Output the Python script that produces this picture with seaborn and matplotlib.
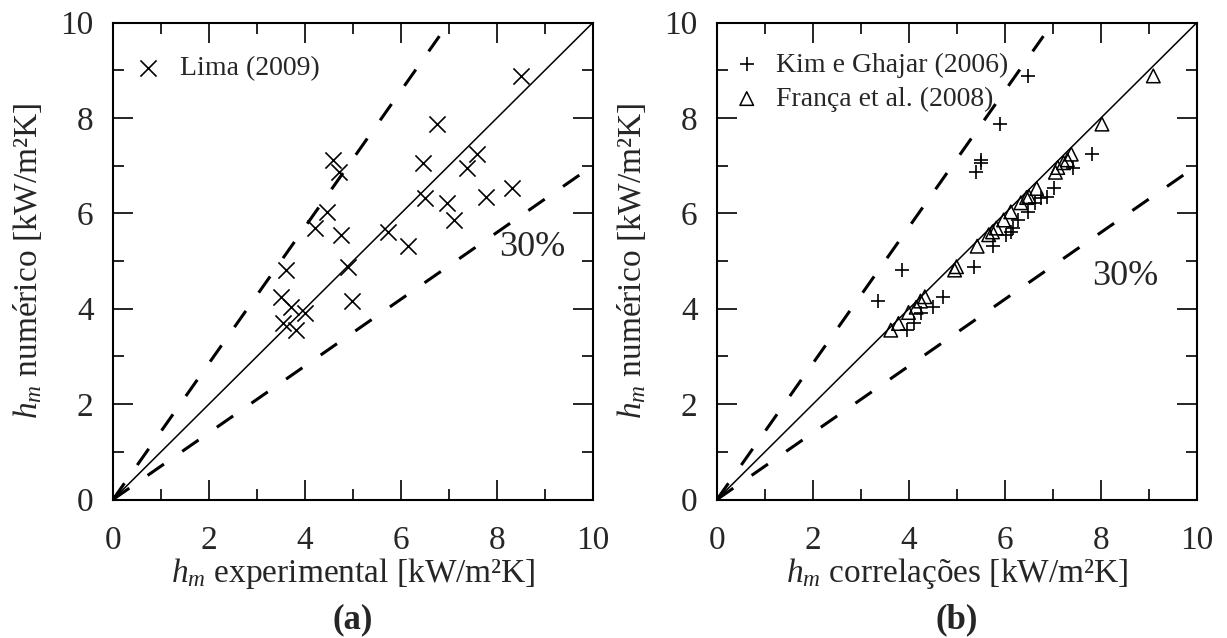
import numpy as np
import pandas as pd
import matplotlib
matplotlib.use("Agg")
import matplotlib.pyplot as plt
from matplotlib.ticker import MultipleLocator
import seaborn as sns

# Numerical heat transfer coefficient (same runs in both panels) [kW/m2K]
h_numerico = [3.55, 3.69, 3.92, 4.03, 4.16, 4.25, 4.81, 4.88, 5.31, 5.55,
              5.61, 5.69, 5.86, 6.03, 6.22, 6.33, 6.35, 6.52, 6.86, 6.96,
              7.06, 7.12, 7.24, 7.87, 8.88]
# Experimental values, Lima (2009)
h_lima = [3.81, 3.55, 3.99, 3.71, 4.97, 3.50, 3.60, 4.90, 6.14, 4.76,
          5.72, 4.21, 7.11, 4.46, 6.96, 6.49, 7.77, 8.32, 4.71, 7.37,
          6.46, 4.58, 7.58, 6.74, 8.49]
# Correlation of Kim e Ghajar (2006)
h_kim = [3.95, 4.10, 4.25, 4.50, 3.36, 4.70, 3.86, 5.36, 5.76, 6.03,
         6.12, 6.16, 6.28, 6.48, 6.62, 6.76, 6.88, 7.02, 5.40, 7.42,
         5.51, 5.49, 7.82, 5.90, 6.48]
# Correlation of França et al. (2008)
h_franca = [3.62, 3.78, 3.99, 4.15, 4.24, 4.33, 4.95, 4.99, 5.42, 5.66,
            5.74, 5.82, 5.97, 6.12, 6.33, 6.45, 6.50, 6.66, 7.05, 7.10,
            7.22, 7.30, 7.38, 8.02, 9.09]

ticks = [0, 2, 4, 6, 8, 10]
band = 0.30  # +/- 30 % deviation lines

sns.set_style("ticks")
plt.rcParams["font.family"] = ["Liberation Serif", "DejaVu Serif"]
plt.rcParams["mathtext.fontset"] = "custom"
plt.rcParams["mathtext.rm"] = "Liberation Serif"
plt.rcParams["mathtext.it"] = "Liberation Serif:italic"
plt.rcParams["axes.unicode_minus"] = False

W, H = 1227, 638
fig = plt.figure(figsize=(W / 100, H / 100), dpi=100)
ax_w, ax_h = 480 / W, 477 / H
bottom = 1 - 499.5 / H
ax_a = fig.add_axes([113 / W, bottom, ax_w, ax_h])
ax_b = fig.add_axes([717 / W, bottom, ax_w, ax_h])

df_a = pd.DataFrame({"x": h_lima, "y": h_numerico})
df_kim = pd.DataFrame({"x": h_kim, "y": h_numerico})
df_fr = pd.DataFrame({"x": h_franca, "y": h_numerico})

dash = (0, (6.5, 7.3))


def frame(ax, xlabel, tag):
    ax.set_xlim(0, 10)
    ax.set_ylim(0, 10)
    ax.set_xticks(ticks)
    ax.set_yticks(ticks)
    ax.xaxis.set_minor_locator(MultipleLocator(1))
    ax.yaxis.set_minor_locator(MultipleLocator(1))
    for s in ax.spines.values():
        s.set_linewidth(1.5)
        s.set_color("black")
    ax.tick_params(which="both", direction="in", top=True, right=True,
                   width=1.2, color="black")
    ax.tick_params(which="major", length=14.5, labelsize=24)
    ax.tick_params(axis="x", which="major", pad=19)
    ax.tick_params(axis="y", which="major", pad=14)
    ax.tick_params(which="minor", length=8)

    # 1:1 line and the +/-30 % band, all starting at the origin
    ax.plot([0, 10], [0, 10], color="black", lw=1.1, zorder=2)
    x_up = 6.8
    ax.plot([0, x_up], [0, x_up / (1 - band)], color="black", lw=2.2,
            linestyle=dash, zorder=2)
    x_lo = 9.75
    ax.plot([0, x_lo], [0, x_lo * (1 - band)], color="black", lw=2.2,
            linestyle=dash, zorder=2)

    ax.set_xlabel(r"$h_m$ " + xlabel + " [kW/m²K]", fontsize=24)
    ax.set_ylabel(r"$h_m$ numérico [kW/m²K]", fontsize=24)
    ax.xaxis.set_label_coords(0.5, -0.156)
    ax.xaxis.label.set_va("center")
    ax.yaxis.set_label_coords(-0.178, 0.5)
    ax.yaxis.label.set_va("center")
    ax.text(0.5, -0.2526, tag, transform=ax.transAxes, ha="center",
            va="center", fontsize=25, fontweight="bold")


frame(ax_a, "experimental", "(a)")
frame(ax_b, "correlações", "(b)")

# Panel (a): numerical vs experimental
sns.scatterplot(data=df_a, x="x", y="y", ax=ax_a, marker="x", s=135,
                color="black", linewidth=1.2, label="Lima (2009)", zorder=3)
ax_a.text(8.73, 5.28, "30%", fontsize=26, ha="center", va="center")
ax_a.legend(loc="upper left", bbox_to_anchor=(0.045, 0.93), frameon=False,
            fontsize=20, handlelength=1.0, handletextpad=0.62,
            borderpad=0, borderaxespad=0)

# Panel (b): numerical vs correlations
sns.scatterplot(data=df_kim, x="x", y="y", ax=ax_b, marker="+", s=110,
                color="black", linewidth=1.2, label="Kim e Ghajar (2006)",
                zorder=3)
sns.scatterplot(data=df_fr, x="x", y="y", ax=ax_b, marker="^", s=95,
                facecolor="none", edgecolor="black", linewidth=1.1,
                label="França et al. (2008)", zorder=3)
ax_b.text(8.51, 4.67, "30%", fontsize=26, ha="center", va="center")
ax_b.legend(loc="upper left", bbox_to_anchor=(0.033, 0.938), frameon=False,
            fontsize=20, handlelength=1.0, handletextpad=0.55,
            borderpad=0, borderaxespad=0, labelspacing=0.32)

fig.savefig("out.png", dpi=100)
